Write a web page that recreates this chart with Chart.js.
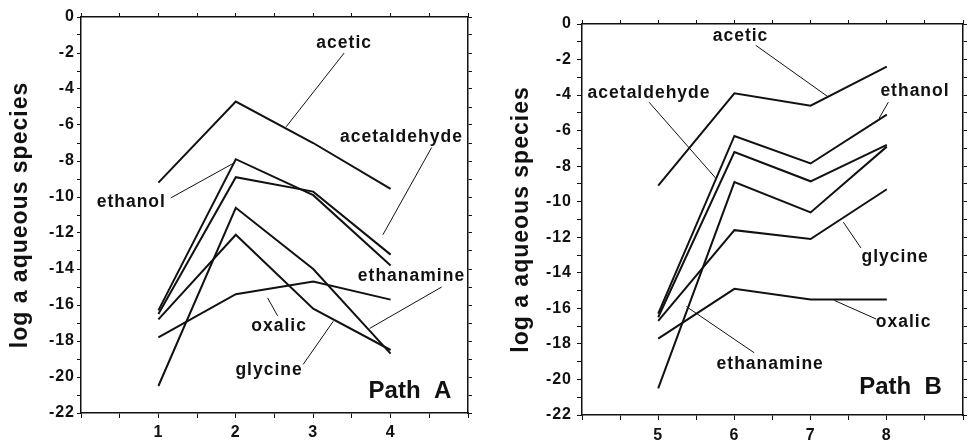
<!DOCTYPE html>
<html>
<head>
<meta charset="utf-8">
<script src="https://cdn.jsdelivr.net/npm/chart.js@4/dist/chart.umd.min.js"></script>
<style>
  body { margin: 0; background: #fff; }
  #wrap { position: relative; width: 969px; height: 444px; }
  #chartA { position: absolute; left: 0; top: 0; }
  #chartB { position: absolute; left: 485px; top: 0; }
</style>
</head>
<body>
<div id="wrap">
  <canvas id="chartA" width="485" height="444"></canvas>
  <canvas id="chartB" width="484" height="444"></canvas>
</div>
<script>
// steps along each path
const stepsA = [1, 2, 3, 4];
const stepsB = [5, 6, 7, 8];

// log a of each aqueous species, Path A
const aceticA       = [-9.2, -4.7, -7.0, -9.55];
const ethanolA      = [-16.3, -7.9, -9.9, -13.8];
const acetaldehydeA = [-16.5, -8.9, -9.7, -13.2];
const ethanamineA   = [-20.5, -10.6, -14.0, -18.7];
const glycineA      = [-16.8, -12.1, -16.2, -18.5];
const oxalicA       = [-17.8, -15.4, -14.7, -15.7];

// Path B
const aceticB       = [-9.1, -3.9, -4.6, -2.4];
const ethanolB      = [-16.3, -6.3, -7.85, -5.1];
const acetaldehydeB = [-16.5, -7.2, -8.85, -6.8];
const ethanamineB   = [-20.5, -8.9, -10.6, -6.9];
const glycineB      = [-16.7, -11.6, -12.1, -9.3];
const oxalicB       = [-17.7, -14.9, -15.5, -15.5];

const yTitle = 'log a aqueous species';
const ink = '#111';
const FONT = "'Liberation Sans', Arial, sans-serif";

function series(xs, ys) {
  return {
    data: xs.map((x, i) => ({ x: x, y: ys[i] })),
    borderColor: ink, borderWidth: 2, pointRadius: 0, tension: 0, fill: false
  };
}

// species labels with their leader lines (data coords)
const labelsA = [
  { text: 'acetic',       at: [3.4, -1.45],  from: [3.4, -2.0],   to: [2.65, -6.1] },
  { text: 'acetaldehyde', at: [4.14, -6.65], from: [4.53, -7.25], to: [3.9, -12.1] },
  { text: 'ethanol',      at: [0.65, -10.3], from: [1.16, -10.05], to: [1.98, -8.1] },
  { text: 'ethanamine',   at: [4.27, -14.4], from: [4.66, -15.0], to: [3.73, -17.3] },
  { text: 'oxalic',       at: [2.56, -17.2], from: [2.54, -16.6], to: [2.41, -15.6] },
  { text: 'glycine',      at: [2.43, -19.6], from: [2.87, -19.3], to: [3.26, -16.9] }
];
const labelsB = [
  { text: 'acetic',       at: [6.08, -0.7],  from: [6.28, -1.2],  to: [7.23, -4.1] },
  { text: 'acetaldehyde', at: [4.88, -3.9],  from: [4.88, -4.4],  to: [5.76, -8.7] },
  { text: 'ethanol',      at: [8.37, -3.8],  from: [8.02, -4.4],  to: [7.9, -5.3] },
  { text: 'glycine',      at: [8.11, -13.1], from: [7.66, -12.6], to: [7.43, -11.15] },
  { text: 'oxalic',       at: [8.22, -16.8], from: [7.86, -16.6], to: [7.31, -15.55] },
  { text: 'ethanamine',   at: [6.47, -19.15], from: [6.26, -18.5], to: [5.37, -15.9] }
];

const labelPlugin = {
  id: 'speciesLabels',
  beforeDraw(chart) {
    // the old figure's lettering is loosely spaced
    chart.ctx.letterSpacing = '1px';
  },
  afterDatasetsDraw(chart, args, opts) {
    const ctx = chart.ctx, sx = chart.scales.x, sy = chart.scales.y;
    ctx.save();
    ctx.strokeStyle = ink;
    ctx.lineWidth = 1;
    ctx.fillStyle = ink;
    ctx.textAlign = 'center';
    ctx.textBaseline = 'middle';
    ctx.letterSpacing = '1px';
    ctx.font = 'bold 17.5px ' + FONT;
    opts.items.forEach(l => {
      ctx.beginPath();
      ctx.moveTo(sx.getPixelForValue(l.from[0]), sy.getPixelForValue(l.from[1]));
      ctx.lineTo(sx.getPixelForValue(l.to[0]), sy.getPixelForValue(l.to[1]));
      ctx.stroke();
      ctx.fillText(l.text, sx.getPixelForValue(l.at[0]), sy.getPixelForValue(l.at[1]));
    });
    ctx.font = 'bold 24px ' + FONT;
    ctx.letterSpacing = '0px';
    ctx.fillText(opts.path.text, sx.getPixelForValue(opts.path.at[0]), sy.getPixelForValue(opts.path.at[1]));
    ctx.restore();
  }
};

function makeChart(id, xs, sets, xmin, xmax, labels, path, lay) {
  const tickFont = { family: FONT, size: 16, weight: 'bold' };
  const noArea = { drawOnChartArea: false, color: ink, tickLength: 4, tickWidth: 1 };
  const border = { color: ink, width: 1.5 };
  return new Chart(document.getElementById(id), {
    type: 'scatter',
    data: { datasets: sets.map(s => Object.assign(series(xs, s), { showLine: true })) },
    options: {
      responsive: false,
      animation: false,
      layout: { padding: 0 },
      plugins: {
        legend: { display: false },
        tooltip: { enabled: false },
        speciesLabels: { items: labels, path: path }
      },
      scales: {
        x: {
          type: 'linear', position: 'bottom', min: xmin, max: xmax,
          border: border,
          grid: Object.assign({}, noArea, { tickLength: 5 }),
          ticks: {
            stepSize: 0.5, color: ink, font: tickFont, padding: lay.xPad, maxRotation: 0,
            autoSkip: false,
            callback: v => (Number.isInteger(v) && xs.includes(v)) ? String(v) : ''
          },
          afterFit: s => { s.height = lay.bottom; }
        },
        x2: {
          type: 'linear', position: 'top', min: xmin, max: xmax,
          border: border, grid: noArea,
          ticks: { stepSize: 0.5, display: false },
          afterFit: s => { s.height = lay.top; }
        },
        y: {
          type: 'linear', position: 'left', min: -22, max: 0,
          border: border,
          grid: Object.assign({}, noArea, { tickLength: lay.yTick }),
          ticks: {
            stepSize: 1, color: ink, font: tickFont, padding: lay.yPad, autoSkip: false,
            callback: v => (v % 2 === 0) ? String(v) : ''
          },
          title: {
            display: true, text: yTitle, color: ink,
            font: { family: FONT, size: 23, weight: 'bold' },
            padding: { top: lay.titlePad, bottom: 0 }
          },
          afterFit: s => { s.width = lay.left; }
        },
        y2: {
          type: 'linear', position: 'right', min: -22, max: 0,
          border: border, grid: noArea,
          ticks: { stepSize: 1, display: false },
          afterFit: s => { s.width = lay.right; }
        }
      }
    },
    plugins: [labelPlugin]
  });
}

makeChart('chartA', stepsA,
  [aceticA, ethanolA, acetaldehydeA, ethanamineA, glycineA, oxalicA],
  0, 5, labelsA, { text: 'Path  A', at: [4.25, -20.8] },
  { left: 81, right: 17, top: 17, bottom: 31, xPad: 5, yPad: 2, yTick: 4, titlePad: 7 });

makeChart('chartB', stepsB,
  [aceticB, ethanolB, acetaldehydeB, ethanamineB, glycineB, oxalicB],
  4, 9, labelsB, { text: 'Path  B', at: [8.18, -20.45] },
  { left: 97, right: 1, top: 24, bottom: 29, xPad: 6, yPad: 5, yTick: 5, titlePad: 23 });
</script>
</body>
</html>
